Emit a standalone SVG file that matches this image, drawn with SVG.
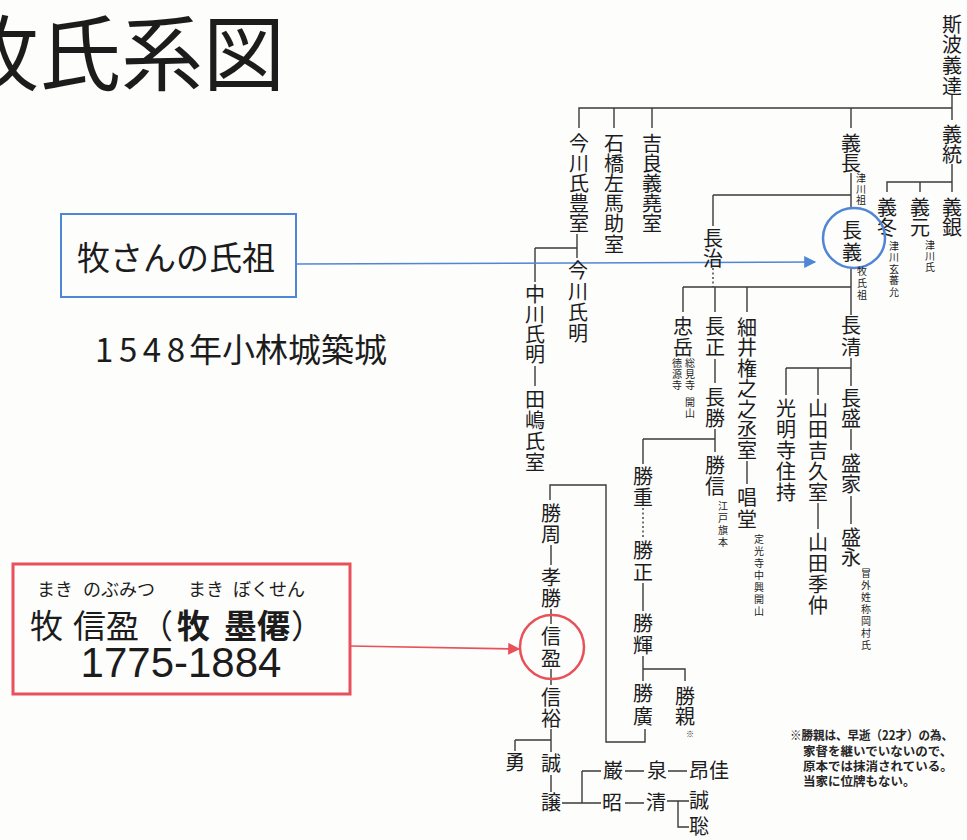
<svg xmlns="http://www.w3.org/2000/svg" width="967" height="840" viewBox="0 0 967 840">
<style>
.bg{fill:#fdfdfc}
.v,.vs,.t{font-family:"Noto Sans CJK JP","Noto Sans CJK SC",sans-serif;fill:#1c1c1c}
.v{font-size:20px;writing-mode:vertical-rl;text-anchor:start}
.vs{font-size:10px;writing-mode:vertical-rl;text-anchor:start;fill:#222}
.t{font-size:20px;text-anchor:middle}
.h{font-family:"Noto Sans CJK JP","Noto Sans CJK SC",sans-serif;fill:#1c1c1c}
.c{stroke:#3a3a3a;stroke-width:1.4;fill:none}
.d{stroke-dasharray:2 2.5}
.blue{stroke:#4f86d6;fill:none}
.red{stroke:#e8505a;fill:none}
</style>
<defs>
<marker id="ab" viewBox="0 0 10 10" refX="9" refY="5" markerWidth="16" markerHeight="12" markerUnits="userSpaceOnUse" orient="auto"><path d="M0,0 L10,5 L0,10 z" fill="#4f86d6"/></marker>
<marker id="ar" viewBox="0 0 10 10" refX="9" refY="5" markerWidth="16" markerHeight="12" markerUnits="userSpaceOnUse" orient="auto"><path d="M0,0 L10,5 L0,10 z" fill="#e8505a"/></marker>
</defs>
<rect class="bg" x="0" y="0" width="967" height="840"/>

<g id="title"><text class="h" x="-43" y="84" font-size="82">牧氏系図</text></g>

<g id="note-founder">
<rect class="blue" x="61" y="214" width="235" height="83" stroke-width="2"/>
<text class="h" x="77" y="270" font-size="33">牧さんの氏祖</text>
</g>
<g id="note-castle">
<text class="h" x="95" y="362" font-size="33" textLength="90" lengthAdjust="spacing">1548</text>
<text class="h" x="189" y="362" font-size="33">年小林城築城</text>
</g>
<g id="note-nobumitsu">
<rect class="red" x="13" y="564" width="337" height="130" stroke-width="3"/>
<text class="h" y="596" font-size="18"><tspan x="37">まき</tspan><tspan x="83">のぶみつ</tspan><tspan x="188">まき</tspan><tspan x="233">ぼくせん</tspan></text>
<text class="h" y="638" font-size="33"><tspan x="30">牧</tspan><tspan x="73">信盈</tspan><tspan x="140">（</tspan><tspan x="177" font-weight="bold">牧</tspan><tspan x="224" font-weight="bold">墨僊</tspan><tspan x="291">）</tspan></text>
<text x="181" y="677" font-family="Liberation Sans, Arial, sans-serif" font-size="42" fill="#1c1c1c" text-anchor="middle">1775-1884</text>
</g>

<g id="connectors">
<path class="c" d="M952 95V120M579 128V108H952M614 108V128M652 108V128M851 108V128"/>
<path class="c" d="M952 164V192M887 192V182H952M920 182V192"/>
<path class="c" d="M851 173V207M713 195H851M713 195V226"/>
<path class="c d" d="M713 268V287"/>
<path class="c" d="M851 268V315M683 287H851M683 287V312M715 287V312M747 287V312"/>
<path class="c" d="M715 359V383M715 429V452M643 439H715M643 439V464"/>
<path class="c" d="M747 461V484"/>
<path class="c" d="M851 358V386M786 368H851M786 368V395M818 368V395"/>
<path class="c" d="M851 429V450M851 496V524M818 503V529"/>
<path class="c" d="M577 234V258M535 248H577M535 248V282M535 366V386"/>
<path class="c d" d="M643 508V538"/>
<path class="c" d="M643 583V611M643 656V681M643 669H685V681"/>
<path class="c" d="M645 729V742H606V485H550V500"/>
<path class="c" d="M551 545V565M551 609V624M551 669V685M551 729V752M515 740H551M515 740V751M551 775V792"/>
<path class="c" d="M562 803H582M582 771V803M582 771H601M582 803H601M625 771H644M668 771H687M625 803H644M667 801H689M678 801V827H689"/>
<path class="blue" stroke-width="1.6" d="M296 264L815 262" marker-end="url(#ab)"/>
<path class="red" stroke-width="1.6" d="M350 646L519 649" marker-end="url(#ar)"/>
</g>

<g id="n-shiba-yoshitake"><text class="v" x="952" y="14" letter-spacing="0.7">斯波義達</text></g>
<g id="n-yoshimune"><text class="v" x="952" y="124">義統</text></g>
<g id="n-yoshikane"><text class="v" x="952" y="197">義銀</text></g>
<g id="n-yoshimoto"><text class="v" x="920" y="197">義元</text>
<text class="vs" x="930" y="240" letter-spacing="1">津川氏</text></g>
<g id="n-yoshifuyu"><text class="v" x="887" y="197">義冬</text>
<text class="vs" x="894" y="241" letter-spacing="1.5">津川玄蕃允</text></g>
<g id="n-imagawa-uji-toyo-shitsu"><text class="v" x="579" y="133" letter-spacing="0.2">今川氏豊室</text></g>
<g id="n-ishibashi"><text class="v" x="614" y="133" letter-spacing="0.2">石橋左馬助室</text></g>
<g id="n-kira"><text class="v" x="652" y="133" letter-spacing="0.2">吉良義堯室</text></g>
<g id="n-yoshinaga"><text class="v" x="851" y="133">義長</text>
<text class="vs" x="861" y="173" letter-spacing="1">津川祖</text></g>
<g id="n-nagayoshi"><ellipse class="blue" cx="854" cy="238" rx="31" ry="30" stroke-width="2.5"/>
<text class="v" x="852" y="220" letter-spacing="2">長義</text>
<text class="vs" x="862" y="266" letter-spacing="2">牧氏祖</text></g>
<g id="n-nagaharu"><text class="v" x="713" y="228">長治</text></g>
<g id="n-chugaku"><text class="v" x="683" y="316" letter-spacing="1">忠岳</text>
<text class="vs" x="690" y="358" letter-spacing="1">総見寺</text>
<text class="vs" x="690" y="397" letter-spacing="1">開山</text>
<text class="vs" x="677" y="358" letter-spacing="1">徳源寺</text></g>
<g id="n-nagamasa"><text class="v" x="715" y="316" letter-spacing="1">長正</text></g>
<g id="n-nagakatsu"><text class="v" x="715" y="387" letter-spacing="1">長勝</text></g>
<g id="n-katsunobu"><text class="v" x="715" y="455" letter-spacing="1">勝信</text>
<text class="vs" x="723" y="501" letter-spacing="2">江戸旗本</text></g>
<g id="n-hosoi"><text class="v" x="747" y="317" letter-spacing="0.6">細井権之之丞室</text></g>
<g id="n-shodo"><text class="v" x="747" y="487" letter-spacing="2">唱堂</text>
<text class="vs" x="759" y="534" letter-spacing="2">定光寺中興開山</text></g>
<g id="n-nagakiyo"><text class="v" x="851" y="315" letter-spacing="2">長清</text></g>
<g id="n-komyoji"><text class="v" x="786" y="398" letter-spacing="1">光明寺住持</text></g>
<g id="n-yamada-shitsu"><text class="v" x="818" y="398" letter-spacing="1">山田吉久室</text></g>
<g id="n-yamada-suechu"><text class="v" x="818" y="532" letter-spacing="1.3">山田季仲</text></g>
<g id="n-nagamori"><text class="v" x="851" y="388">長盛</text></g>
<g id="n-moriie"><text class="v" x="851" y="453" letter-spacing="1">盛家</text></g>
<g id="n-morinaga"><text class="v" x="851" y="527">盛永</text>
<text class="vs" x="866" y="568" letter-spacing="2">冒外姓称岡村氏</text></g>
<g id="n-imagawa-ujiaki"><text class="v" x="578" y="260" letter-spacing="1.3">今川氏明</text></g>
<g id="n-nakagawa"><text class="v" x="535" y="284" letter-spacing="0.3">中川氏明</text></g>
<g id="n-tajima"><text class="v" x="535" y="389" letter-spacing="1">田嶋氏室</text></g>
<g id="n-katsuchika-shu"><text class="v" x="551" y="503" letter-spacing="1">勝周</text></g>
<g id="n-takakatsu"><text class="v" x="551" y="567" letter-spacing="1">孝勝</text></g>
<g id="n-nobumitsu"><ellipse class="red" cx="552" cy="647" rx="32" ry="32" stroke-width="2.5"/>
<text class="v" x="551" y="626" letter-spacing="2">信盈</text></g>
<g id="n-nobuhiro"><text class="v" x="551" y="687" letter-spacing="1">信裕</text></g>
<g id="n-isamu"><text class="t" x="515" y="770">勇</text></g>
<g id="n-makoto"><text class="t" x="551" y="771">誠</text></g>
<g id="n-yuzuru"><text class="t" x="551" y="810">譲</text></g>
<g id="n-katsushige"><text class="v" x="643" y="466" letter-spacing="1">勝重</text></g>
<g id="n-katsumasa"><text class="v" x="643" y="540" letter-spacing="2">勝正</text></g>
<g id="n-katsuteru"><text class="v" x="643" y="613" letter-spacing="2">勝輝</text></g>
<g id="n-katsuhiro"><text class="v" x="643" y="683" letter-spacing="3">勝廣</text></g>
<g id="n-katsuchika"><text class="v" x="685" y="686">勝親</text>
<text class="h" x="690" y="737" font-size="8" text-anchor="middle">※</text></g>
<g id="n-iwao"><text class="t" x="613" y="778">巌</text></g>
<g id="n-izumi"><text class="t" x="657" y="778">泉</text></g>
<g id="n-akiyoshi"><text class="h" x="689" y="778" font-size="20">昂佳</text></g>
<g id="n-akira"><text class="t" x="612" y="810">昭</text></g>
<g id="n-kiyoshi"><text class="t" x="656" y="810">清</text></g>
<g id="n-makoto2"><text class="t" x="699" y="808">誠</text></g>
<g id="n-satoshi"><text class="t" x="699" y="834">聡</text></g>

<g id="footnote" font-family="Noto Sans CJK JP, Noto Sans CJK SC, sans-serif" font-size="12.5" font-weight="bold" fill="#262626">
<text x="790" y="740" textLength="163" lengthAdjust="spacingAndGlyphs">※勝親は、早逝（22才）の為、</text>
<text x="803" y="756">家督を継いでいないので、</text>
<text x="803" y="771">原本では抹消されている。</text>
<text x="803" y="786">当家に位牌もない。</text>
</g>
</svg>
